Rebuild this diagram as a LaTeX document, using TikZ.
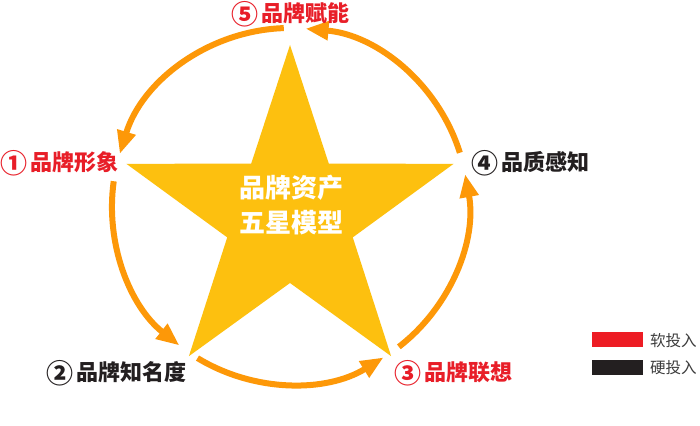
\documentclass[tikz,border=0pt]{standalone}
\usepackage{fontspec}
\newfontfamily\cjk{Noto Sans CJK SC}
\usetikzlibrary{arrows.meta,calc}
\definecolor{starY}{RGB}{253,192,15}
\definecolor{arcO}{RGB}{253,152,8}
\definecolor{labR}{RGB}{232,30,40}
\definecolor{labK}{RGB}{35,31,32}
\definecolor{legR}{RGB}{237,28,36}
\definecolor{legK}{RGB}{35,31,32}
\definecolor{legT}{RGB}{60,60,60}
\newcommand{\cnum}[1]{{\fontsize{27}{27}\selectfont\raisebox{-2.5pt}{#1}}\hspace{3pt}}
\tikzset{
  arcarrow/.style={draw=arcO, line width=6pt, -{Triangle[length=23pt,width=18pt]}},
  lab/.style={font=\cjk\bfseries\fontsize{22}{24}\selectfont, inner sep=0pt, anchor=west},
  legtext/.style={font=\cjk\fontsize{15.5}{18}\selectfont, text=legT, inner sep=0pt, anchor=west},
  centertext/.style={font=\cjk\bfseries\fontsize{26}{35}\selectfont, text=white, align=center, inner sep=0pt}
}
\begin{document}
\begin{tikzpicture}[x=1pt,y=1pt]
\useasboundingbox (0,0) rectangle (700,425);
\fill[white] (0,0) rectangle (700,425);
% star
\coordinate (sc) at (290,208);
\fill[starY] ($(sc)+(90:172)$) -- ($(sc)+(126:66)$) -- ($(sc)+(162:172)$) -- ($(sc)+(198:66)$)
  -- ($(sc)+(234:172)$) -- ($(sc)+(270:66)$) -- ($(sc)+(306:172)$) -- ($(sc)+(342:66)$)
  -- ($(sc)+(18:172)$) -- ($(sc)+(54:66)$) -- cycle;
\node[centertext] (ctext) at (291,220) {品牌资产\\五星模型};
% circle arcs
\coordinate (cc) at (290,219);
\def\R{178}
\draw[arcarrow] ($(cc)+(92:\R)$) arc[start angle=92, end angle=163, radius=\R];
\draw[arcarrow] ($(cc)+(172:\R)$) arc[start angle=172, end angle=231.6, radius=\R];
\draw[arcarrow] ($(cc)+(238.7:\R)$) arc[start angle=238.7, end angle=301.7, radius=\R];
\draw[arcarrow] ($(cc)+(307.7:\R)$) arc[start angle=307.7, end angle=370.3, radius=\R];
\draw[arcarrow] ($(cc)+(17.4:\R)$) arc[start angle=17.4, end angle=85, radius=\R];
% labels
\node[lab, text=labR] (l5) at (231,411) {\cnum{⑤}品牌赋能};
\node[lab, text=labR] (l1) at (0,262) {\cnum{①}品牌形象};
\node[lab, text=labK] (l4) at (471,262) {\cnum{④}品质感知};
\node[lab, text=labK] (l2) at (46,52) {\cnum{②}品牌知名度};
\node[lab, text=labR] (l3) at (394,52) {\cnum{③}品牌联想};
% legend
\fill[legR] (592,78) rectangle (643,93);
\fill[legK] (592,50) rectangle (643,65);
\node[legtext] (t1) at (650,84) {软投入};
\node[legtext] (t2) at (650,57) {硬投入};
\end{tikzpicture}
\end{document}
